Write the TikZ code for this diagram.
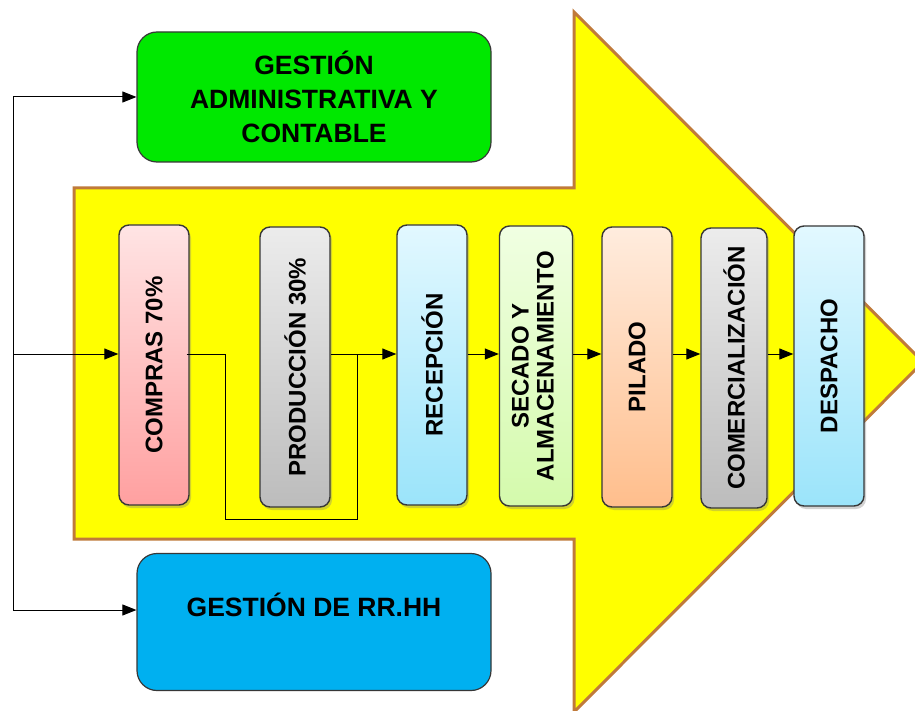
\documentclass[tikz,border=0pt]{standalone}
\usepackage{fontspec}
\setmainfont{Liberation Sans}
\usetikzlibrary{arrows.meta,shadows}
\definecolor{arrowyellow}{RGB}{255,255,0}
\definecolor{arrowbrown}{RGB}{192,122,58}
\definecolor{boxline}{RGB}{55,55,55}
\definecolor{admingreen}{RGB}{0,232,0}
\definecolor{rrhhblue}{RGB}{0,176,240}
\begin{document}
\begin{tikzpicture}[x=1pt,y=-1pt,
  stagebox/.style={draw=boxline, line width=1.4pt, rounded corners=10pt,
    minimum width=70pt, minimum height=280pt, inner sep=0pt,
    font=\fontsize{24}{25}\selectfont\bfseries,
    drop shadow={shadow xshift=2pt,shadow yshift=-3pt,opacity=0.35}},
  areabox/.style={draw=boxline, line width=1.2pt, rounded corners=20pt,
    minimum width=354pt, inner sep=0pt, align=center,
    font=\fontsize{26.5}{34}\selectfont\bfseries},
  flow/.style={-{Triangle[length=14pt,width=11pt]}, line width=1pt},
  link/.style={line width=1pt}]
\path[fill=white,use as bounding box] (0,0) rectangle (915,711);
% big yellow arrow
\draw[draw=arrowbrown, fill=arrowyellow, line width=3pt]
  (74,188) -- (574,188) -- (574,12) -- (923,362) -- (574,712)
  -- (574,539) -- (74,539) -- cycle;
% support areas
\node[areabox, fill=admingreen, minimum height=130pt]
  (admin) at (314,97) {GESTIÓN\\ADMINISTRATIVA Y\\CONTABLE};
\node[areabox, fill=rrhhblue, minimum height=137pt, text height=18pt, text depth=29pt]
  (rrhh) at (314,622) {GESTIÓN DE RR.HH};
% stages
\node[stagebox, top color={rgb,255:red,255;green,228;blue,228}, bottom color={rgb,255:red,255;green,160;blue,160}]
  (compras) at (154,365) {\rotatebox{90}{COMPRAS 70\%}};
\node[stagebox, top color={rgb,255:red,236;green,236;blue,236}, bottom color={rgb,255:red,188;green,188;blue,188}]
  (produccion) at (295,367) {\rotatebox{90}{PRODUCCIÓN 30\%}};
\node[stagebox, top color={rgb,255:red,226;green,248;blue,255}, bottom color={rgb,255:red,155;green,228;blue,250}]
  (recepcion) at (432,365) {\rotatebox{90}{RECEPCIÓN}};
\node[stagebox, minimum width=73pt, top color={rgb,255:red,240;green,255;blue,226}, bottom color={rgb,255:red,212;green,250;blue,172}]
  (secado) at (536,366) {\rotatebox{90}{\begin{tabular}{@{}c@{}}SECADO Y\\ALMACENAMIENTO\end{tabular}}};
\node[stagebox, top color={rgb,255:red,255;green,236;blue,222}, bottom color={rgb,255:red,255;green,190;blue,140}]
  (pilado) at (637,367) {\rotatebox{90}{PILADO}};
\node[stagebox, minimum width=66pt, top color={rgb,255:red,236;green,236;blue,236}, bottom color={rgb,255:red,188;green,188;blue,188}]
  (comercial) at (734,368) {\rotatebox{90}{COMERCIALIZACIÓN}};
\node[stagebox, top color={rgb,255:red,226;green,248;blue,255}, bottom color={rgb,255:red,155;green,228;blue,250}]
  (despacho) at (829,366) {\rotatebox{90}{DESPACHO}};
% connectors
\coordinate (trunk) at (13,354);
\coordinate (junc) at (357,354);
\draw[flow] (trunk) |- (admin.west);
\draw[flow] (trunk) |- ([yshift=12pt]rrhh.west);
\draw[flow] (trunk) -- (compras.west |- trunk);
\draw[link] ([xshift=-3pt]compras.east |- trunk) -| (225,519) -| (junc);
\draw[flow] (produccion.east |- trunk) -- (recepcion.west |- trunk);
\foreach \a/\b in {recepcion/secado,secado/pilado,pilado/comercial,comercial/despacho}
  \draw[flow] (\a.east |- trunk) -- (\b.west |- trunk);
\end{tikzpicture}
\end{document}
